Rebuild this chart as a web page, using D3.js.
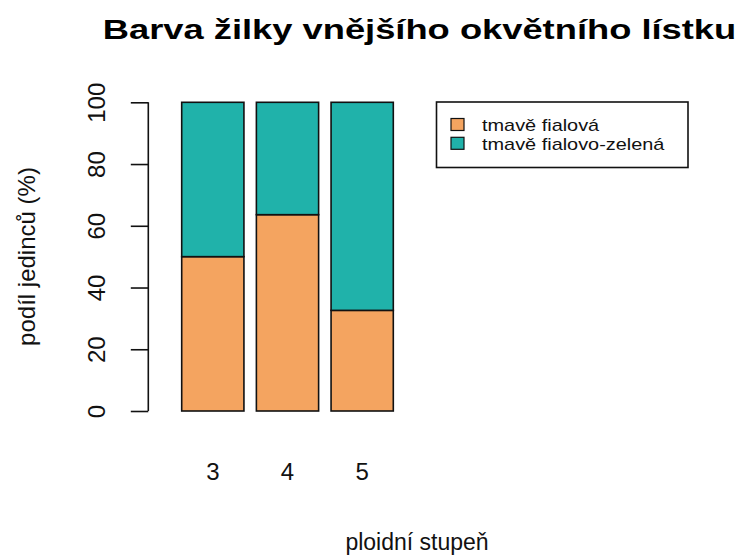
<!DOCTYPE html>
<html>
<head>
<meta charset="utf-8">
<script src="https://cdn.jsdelivr.net/npm/d3@7"></script>
<style>
  html, body { margin: 0; padding: 0; background: #fff; }
  svg { display: block; font-family: "Liberation Sans", Arial, sans-serif; }
</style>
</head>
<body>
<svg id="chart" width="740" height="558"></svg>
<script>
// Ploidy levels on the x axis
const categories = ["3", "4", "5"];
// Share of individuals (%) per vein colour, stacked bottom to top
const seriesNames = ["tmavě fialová", "tmavě fialovo-zelená"];
const tmaveFialova = [50, 63.6, 32.6];
const tmaveFialovoZelena = [50, 36.4, 67.4];
const seriesColors = ["#F4A460", "#20B2AA"];
const yTicks = [0, 20, 40, 60, 80, 100];

const titleText = "Barva žilky vnějšího okvětního lístku";
const xLabel = "ploidní stupeň";
const yLabel = "podíl jedinců (%)";

const svg = d3.select("#chart");

// widen a text element horizontally by a factor (wide raster-style glyphs)
function widen(sel, factor) {
  sel.each(function () {
    const w = this.getComputedTextLength();
    d3.select(this)
      .attr("textLength", w * factor)
      .attr("lengthAdjust", "spacingAndGlyphs");
  });
}

const x = d3.scaleBand()
  .domain(categories)
  .range([181.7, 393.3])
  .paddingInner(0.2 / 1.2)
  .paddingOuter(0);

const y = d3.scaleLinear().domain([0, 100]).range([411, 102.3]);

// stacked layout built from the two series
const rows = categories.map((c, i) => ({
  cat: c,
  [seriesNames[0]]: tmaveFialova[i],
  [seriesNames[1]]: tmaveFialovoZelena[i]
}));
const stack = d3.stack().keys(seriesNames)(rows);

svg.append("g")
  .selectAll("g")
  .data(stack)
  .join("g")
  .attr("fill", (d, i) => seriesColors[i])
  .selectAll("rect")
  .data(d => d)
  .join("rect")
  .attr("x", d => x(d.data.cat))
  .attr("width", x.bandwidth())
  .attr("y", d => y(d[1]))
  .attr("height", d => y(d[0]) - y(d[1]))
  .attr("stroke", "#111")
  .attr("stroke-width", 1.6);

// y axis, R style: line spans first to last tick, labels parallel to axis
const yAxis = svg.append("g")
  .attr("transform", "translate(148.3,0)")
  .call(d3.axisLeft(y).tickValues(yTicks).tickSize(17.5).tickSizeOuter(0).tickPadding(0));
yAxis.select(".domain").remove();
yAxis.selectAll(".tick line").attr("stroke", "#111").attr("stroke-width", 1.6);
yAxis.append("line")
  .attr("x1", 0).attr("x2", 0)
  .attr("y1", y(yTicks[0])).attr("y2", y(yTicks[yTicks.length - 1]))
  .attr("stroke", "#111").attr("stroke-width", 1.6);
yAxis.selectAll(".tick text")
  .attr("x", 0).attr("dy", null)
  .attr("transform", "translate(-43,0) rotate(-90)")
  .attr("text-anchor", "middle")
  .attr("fill", "#111")
  .style("font-size", "24px");

// x category labels (no axis line, as in barplot)
svg.append("g")
  .selectAll("text")
  .data(categories)
  .join("text")
  .attr("x", d => x(d) + x.bandwidth() / 2)
  .attr("y", 480)
  .attr("text-anchor", "middle")
  .attr("fill", "#111")
  .style("font-size", "24px")
  .text(d => d);

// title
svg.append("text")
  .attr("x", 419.5).attr("y", 39)
  .attr("text-anchor", "middle")
  .attr("fill", "#000")
  .style("font-size", "27.5px")
  .style("font-weight", "bold")
  .text(titleText)
  .call(widen, 1.32);

// axis titles
svg.append("text")
  .attr("x", 417).attr("y", 550)
  .attr("text-anchor", "middle")
  .attr("fill", "#111")
  .style("font-size", "23px")
  .text(xLabel);

svg.append("text")
  .attr("transform", "translate(35,256.5) rotate(-90)")
  .attr("text-anchor", "middle")
  .attr("fill", "#111")
  .style("font-size", "24px")
  .text(yLabel);

// legend
const legend = svg.append("g");
legend.append("rect")
  .attr("x", 436.5).attr("y", 102)
  .attr("width", 251.5).attr("height", 65.5)
  .attr("fill", "#fff")
  .attr("stroke", "#111").attr("stroke-width", 1.6);

const items = legend.selectAll("g.item")
  .data(seriesNames)
  .join("g")
  .attr("class", "item")
  .attr("transform", (d, i) => `translate(0,${i * 18.8})`);
items.append("rect")
  .attr("x", 451).attr("y", 118.5)
  .attr("width", 13).attr("height", 12)
  .attr("fill", (d, i) => seriesColors[i])
  .attr("stroke", "#111").attr("stroke-width", 1.2);
items.append("text")
  .attr("x", 482).attr("y", 131)
  .attr("fill", "#111")
  .style("font-size", "17px")
  .text(d => d)
  .call(widen, 1.17);
</script>
</body>
</html>
